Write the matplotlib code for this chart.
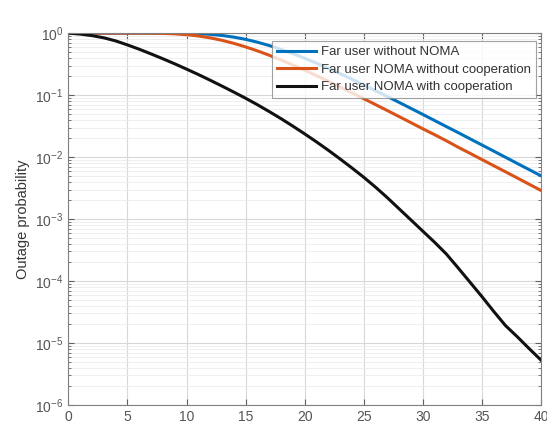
import matplotlib
matplotlib.use("Agg")
import matplotlib.pyplot as plt
from matplotlib.ticker import LogLocator, NullFormatter, FixedLocator

# SNR axis (dB) and outage probability per scheme
snr_db = list(range(0, 41))

p_no_noma = [
    1.0, 1.0, 1.0, 1.0, 1.0, 1.0, 1.0, 1.0, 0.9996, 0.998,
    0.993, 0.981, 0.957, 0.918, 0.863, 0.794, 0.715, 0.631, 0.547, 0.467,
    0.393, 0.328, 0.271, 0.222, 0.181, 0.146, 0.118, 0.095, 0.0762, 0.061,
    0.0488, 0.0389, 0.031, 0.0248, 0.0197, 0.0157, 0.0125, 0.00993, 0.00789, 0.00628,
    0.005,
]

p_noma_no_coop = [
    1.0, 1.0, 1.0, 1.0, 1.0, 1.0, 0.9993, 0.997, 0.990, 0.974,
    0.945, 0.900, 0.840, 0.766, 0.685, 0.600, 0.518, 0.440, 0.369, 0.306,
    0.252, 0.206, 0.167, 0.135, 0.109, 0.0876, 0.0703, 0.0563, 0.045, 0.0359,
    0.0286, 0.0230, 0.0183, 0.0144, 0.0115, 0.00913, 0.00727, 0.00579, 0.0046, 0.00365,
    0.0029,
]

p_noma_coop = [
    1.0, 0.966, 0.912, 0.841, 0.750, 0.646, 0.550, 0.462, 0.386, 0.320,
    0.263, 0.215, 0.174, 0.140, 0.112, 0.0891, 0.0700, 0.0543, 0.0417, 0.0316,
    0.0237, 0.0176, 0.0129, 0.00933, 0.00668, 0.00473, 0.00327, 0.00221, 0.00146, 0.000966,
    0.000638, 0.000422, 0.000272, 0.000162, 9.55e-5, 5.62e-5, 3.24e-5, 1.91e-5, 1.26e-5, 8.13e-6,
    5.31e-6,
]

labels = [
    "Far user without NOMA",
    "Far user NOMA without cooperation",
    "Far user NOMA with cooperation",
]
colors = ["#0072BD", "#D95319", "#111111"]

plt.rcParams["font.family"] = ["Liberation Sans", "DejaVu Sans"]

fig = plt.figure(figsize=(5.47, 4.25), dpi=100)
ax = fig.add_axes([0.125, 0.047, 0.864, 0.875])

for y, lab, c in zip([p_no_noma, p_noma_no_coop, p_noma_coop], labels, colors):
    ax.semilogy(snr_db, y, color=c, lw=2.2, label=lab)

ax.set_xlim(0, 40)
ax.set_ylim(1e-6, 1)
ax.xaxis.set_major_locator(FixedLocator(range(0, 41, 5)))
ax.yaxis.set_major_locator(LogLocator(base=10, numticks=10))
ax.yaxis.set_minor_locator(LogLocator(base=10, subs=range(2, 10), numticks=20))
ax.yaxis.set_minor_formatter(NullFormatter())

ax.grid(True, which="major", color="#d8d8d8", lw=0.8)
ax.grid(True, which="minor", axis="y", color="#ececec", lw=0.6)
ax.tick_params(which="both", direction="in", top=True, right=True,
               colors="#606060", labelcolor="#555555", labelsize=10)
ax.tick_params(which="major", length=4)
ax.tick_params(which="minor", length=2)
for s in ax.spines.values():
    s.set_color("#808080")

ax.set_ylabel("Outage probability", fontsize=10.5, color="#333333")

leg = ax.legend(loc="upper right", bbox_to_anchor=(0.995, 0.985), fontsize=9.5,
                frameon=True, fancybox=False, edgecolor="#8a8a8a",
                handlelength=3.0, handletextpad=0.4, labelspacing=0.4,
                borderpad=0.35, borderaxespad=0.2)
leg.get_frame().set_linewidth(0.8)
for t in leg.get_texts():
    t.set_color("#333333")

fig.savefig("out.png", dpi=100)
